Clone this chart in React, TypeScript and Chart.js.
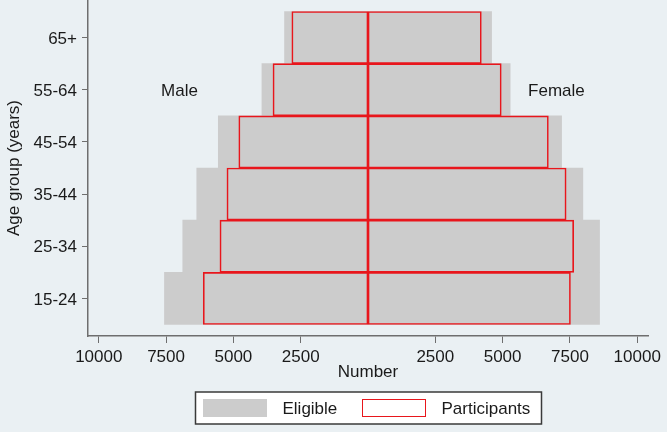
import React, { useEffect, useRef } from 'react';
import { Chart, registerables } from 'chart.js';

Chart.register(...registerables);

// Age groups, bottom to top
const ageGroups = ['15-24', '25-34', '35-44', '45-54', '55-64', '65+'];
const eligibleMale = [7560, 6880, 6360, 5560, 3940, 3100];
const eligibleFemale = [8600, 8600, 7980, 7190, 5280, 4590];
const participantsMale = [6120, 5500, 5240, 4800, 3530, 2830];
const participantsFemale = [7520, 7640, 7360, 6700, 4950, 4210];
const xTickValues = [-10000, -7500, -5000, -2500, 2500, 5000, 7500, 10000];
const sideLabels = [
  { text: 'Male', x: -7000, y: 5 },
  { text: 'Female', x: 7000, y: 5 },
];
const legendLabels = ['Eligible', 'Participants'];

const BG = 'rgb(234,240,243)';
const GRAY = 'rgb(204,204,204)';
const RED = 'rgb(232,22,28)';
const AXIS = 'rgb(110,110,110)';
const TEXT = '#1a1a1a';
const FONT = "'Liberation Sans', Arial, sans-serif";

const pos = (vals: number[], sign: number) =>
  vals.map((v, i) => ({ x: sign * v, y: i + 1 }));

const decorPlugin = {
  id: 'decor',
  beforeDraw(chart: any) {
    const ctx = chart.ctx;
    ctx.save();
    ctx.fillStyle = BG;
    ctx.fillRect(0, 0, chart.width, chart.height);
    ctx.restore();
  },
  afterDraw(chart: any) {
    const ctx = chart.ctx;
    const xs = chart.scales.x;
    const ys = chart.scales.y;
    const area = chart.chartArea;
    ctx.save();
    ctx.font = `17px ${FONT}`;
    ctx.fillStyle = TEXT;
    ctx.textAlign = 'center';
    ctx.textBaseline = 'middle';
    sideLabels.forEach((l) => {
      ctx.fillText(l.text, xs.getPixelForValue(l.x), ys.getPixelForValue(l.y) + 1.5);
    });

    // Legend box
    const cx = (area.left + area.right) / 2;
    const boxW = 346;
    const boxL = Math.round(cx - boxW / 2) + 0.5;
    const boxT = 392;
    const boxH = 32;
    ctx.fillStyle = '#ffffff';
    ctx.fillRect(boxL, boxT, boxW, boxH);
    ctx.strokeStyle = '#3a3a3a';
    ctx.lineWidth = 1.5;
    ctx.strokeRect(boxL, boxT, boxW, boxH);

    const swY = boxT + 7;
    const swH = 18;
    const swW = 64;
    // Eligible swatch
    ctx.fillStyle = GRAY;
    ctx.fillRect(boxL + 7.5, swY, swW, swH);
    ctx.fillStyle = TEXT;
    ctx.textAlign = 'left';
    ctx.fillText(legendLabels[0], boxL + 87, boxT + boxH / 2 + 1);
    // Participants swatch
    ctx.strokeStyle = RED;
    ctx.lineWidth = 1;
    ctx.strokeRect(boxL + 167, swY + 0.5, swW - 1, swH - 1);
    ctx.fillText(legendLabels[1], boxL + 246, boxT + boxH / 2 + 1);
    ctx.restore();
  },
};

export default function App() {
  const ref = useRef<HTMLCanvasElement | null>(null);

  useEffect(() => {
    if (!ref.current) return;
    const chart = new Chart(ref.current, {
      type: 'bar',
      data: {
        datasets: [
          {
            label: 'Participants male',
            data: pos(participantsMale, -1),
            backgroundColor: 'rgba(0,0,0,0)',
            borderColor: RED,
            borderWidth: 1,
            borderSkipped: false,
          },
          {
            label: 'Participants female',
            data: pos(participantsFemale, 1),
            backgroundColor: 'rgba(0,0,0,0)',
            borderColor: RED,
            borderWidth: 1,
            borderSkipped: false,
          },
          {
            label: 'Eligible male',
            data: pos(eligibleMale, -1),
            backgroundColor: GRAY,
            borderWidth: 0,
          },
          {
            label: 'Eligible female',
            data: pos(eligibleFemale, 1),
            backgroundColor: GRAY,
            borderWidth: 0,
          },
        ] as any,
      },
      options: {
        indexAxis: 'y',
        responsive: false,
        animation: false,
        datasets: {
          bar: {
            grouped: false,
            barPercentage: 1,
            categoryPercentage: 1,
          },
        },
        layout: { padding: { top: 0, right: 19, left: 0, bottom: 0 } },
        plugins: {
          legend: { display: false },
          tooltip: { enabled: false },
        },
        scales: {
          x: {
            type: 'linear',
            position: 'bottom',
            offset: false,
            min: -10400,
            max: 10400,
            afterBuildTicks: (scale: any) => {
              scale.ticks = xTickValues.map((v) => ({ value: v }));
            },
            afterFit: (scale: any) => {
              scale.height = 96;
            },
            ticks: {
              autoSkip: false,
              maxRotation: 0,
              padding: 4,
              color: TEXT,
              font: { family: FONT, size: 17 },
              callback: (v: any) => String(Math.abs(Number(v))),
            },
            grid: {
              offset: false,
              drawOnChartArea: false,
              drawTicks: true,
              tickLength: 7,
              tickColor: AXIS,
              tickWidth: 1,
            },
            border: { display: true, color: AXIS, width: 1.5 },
            title: {
              display: true,
              text: 'Number',
              color: TEXT,
              font: { family: FONT, size: 17 },
              padding: { top: 0, bottom: 49 },
            },
          },
          y: {
            type: 'linear',
            position: 'left',
            offset: false,
            min: 0.28,
            max: 6.72,
            afterBuildTicks: (scale: any) => {
              scale.ticks = ageGroups.map((_, i) => ({ value: i + 1 }));
            },
            afterFit: (scale: any) => {
              scale.width = 88;
              scale.paddingTop = 0;
              scale.paddingBottom = 0;
            },
            ticks: {
              autoSkip: false,
              padding: 5,
              labelOffset: 1.5,
              color: TEXT,
              font: { family: FONT, size: 17 },
              callback: (v: any) => ageGroups[Math.round(Number(v)) - 1] ?? '',
            },
            grid: {
              offset: false,
              drawOnChartArea: false,
              drawTicks: true,
              tickLength: 6,
              tickColor: AXIS,
              tickWidth: 1,
            },
            border: { display: true, color: AXIS, width: 1.5 },
            title: {
              display: true,
              text: 'Age group (years)',
              color: TEXT,
              font: { family: FONT, size: 17 },
              padding: { top: 4, bottom: 0 },
            },
          },
        },
      } as any,
      plugins: [decorPlugin],
    });
    return () => chart.destroy();
  }, []);

  return (
    <div style={{ position: 'fixed', left: 0, top: 0, width: 667, height: 432 }}>
      <canvas ref={ref} width={667} height={432} />
    </div>
  );
}
